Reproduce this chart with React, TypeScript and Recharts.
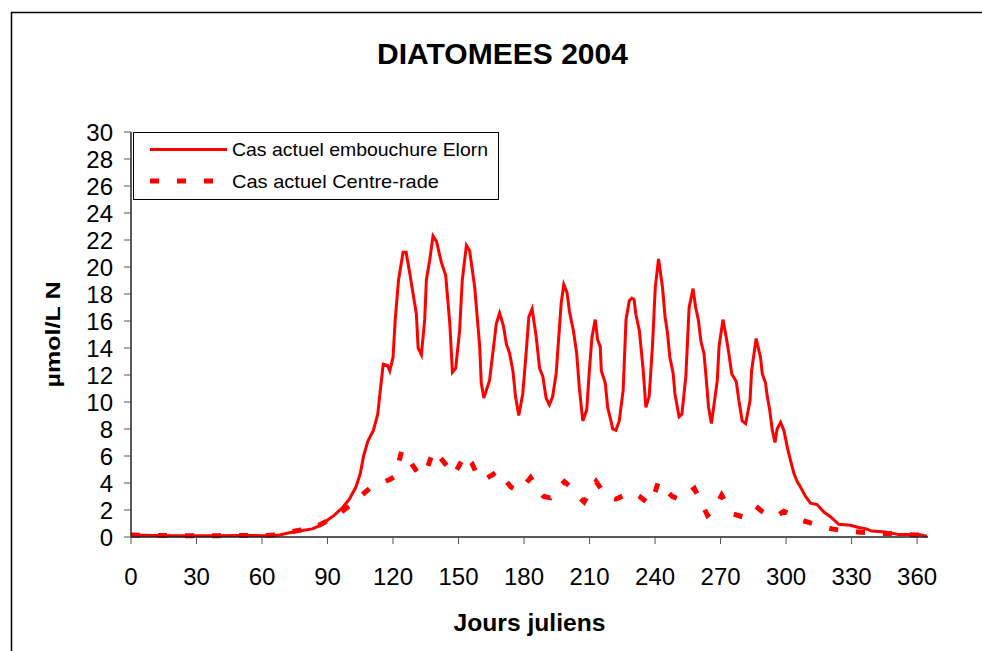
import React from "react";
import { LineChart, Line, XAxis, YAxis, Label } from "recharts";

// ---- Data ----
const chartTitle = "DIATOMEES 2004";
const xAxisTitle = "Jours juliens";
const yAxisTitle = "µmol/L N";
const seriesNames = ["Cas actuel embouchure Elorn", "Cas actuel Centre-rade"];

const xTicks = [0, 30, 60, 90, 120, 150, 180, 210, 240, 270, 300, 330, 360];
const yTicks = [0, 2, 4, 6, 8, 10, 12, 14, 16, 18, 20, 22, 24, 26, 28, 30];

const elornDays = [
  0, 10, 20, 30, 40, 50, 60, 65, 68, 72, 77, 83, 86, 89.6, 93, 97, 100, 103, 105, 106.5,
  108.5, 111, 113, 114, 115.5, 117.5, 118.5, 120, 121, 122.5, 124.6, 126, 127.7, 129.2, 130.7, 131.5,
  133, 134.5, 135.3, 136.8, 138.3, 139.9, 142.2, 144.1, 146, 147.2, 148.7, 150.5, 151.7, 153.6,
  155.1, 157.4, 159.7, 160.4, 161.6, 164.2, 167.3, 168.8, 170.6, 171.9, 173.4, 174.9, 176.1, 177.6,
  179.4, 180.7, 182.2, 183.7, 185.6, 187.1, 188.6, 190.1, 191.6, 193.1, 194.7, 195.9, 197, 198.2,
  199.7, 200.8, 202.6, 204.1, 205.3, 206.9, 208.7, 209.9, 211.1, 212.6, 213.7, 214.9, 215.4, 217.2,
  218.3, 219.8, 220.6, 222.1, 223.6, 225.4, 226.7, 228.2, 229.4, 230.4, 231.2, 232.8, 234.6, 235.8,
  237.3, 238.8, 240.1, 241.6, 243.4, 244.6, 245.7, 246.8, 248.3, 249.1, 251, 252.3, 254.1, 255.6,
  257.4, 258.6, 259.8, 261, 262.4, 263.5, 264.5, 265.8, 267.5, 268.5, 269.3, 271.1, 272.6, 273.8,
  275.1, 277.2, 278.4, 279.9, 281.5, 283.5, 284.2, 286.3, 288.3, 289.1, 290.6, 291.4, 292.5, 293.7,
  294.9, 295.9, 297.5, 299, 300.5, 302, 303.6, 305.1, 306.6, 308.9, 311.2, 314.2, 317.3, 320.3,
  324.1, 329.5, 333.2, 336.3, 339.3, 345.4, 351.5, 360.7, 364.5,
];
const elornValues = [
  0.15, 0.12, 0.1, 0.1, 0.1, 0.12, 0.1, 0.12, 0.15, 0.3, 0.45, 0.6, 0.8, 1.2, 1.6, 2.2, 2.8, 3.7, 4.7, 6.0,
  7.1, 7.9, 9.1, 10.6, 12.8, 12.7, 12.3, 13.3, 16.1, 19.0, 21.1, 21.1, 19.5, 18.0, 16.5, 14.0,
  13.5, 16.1, 19.1, 20.5, 22.3, 21.9, 20.3, 19.4, 15.8, 12.2, 12.5, 15.3, 19.0, 21.6,
  21.2, 18.5, 14.1, 11.4, 10.3, 11.6, 15.8, 16.6, 15.6, 14.3, 13.6, 12.3, 10.4, 9.0,
  10.6, 13.1, 16.3, 16.9, 14.8, 12.5, 11.9, 10.3, 9.8, 10.4, 12.1, 14.8, 17.3, 18.7,
  18.1, 16.7, 15.3, 13.6, 11.1, 8.6, 9.4, 12.3, 14.8, 16.1, 14.6, 14.1, 12.3, 11.4,
  9.6, 8.6, 8.0, 7.9, 8.6, 10.9, 16.1, 17.5, 17.7, 17.6, 16.5, 15.3, 12.3, 9.6,
  10.4, 14.1, 18.5, 20.6, 18.5, 16.3, 15.1, 13.3, 12.1, 10.6, 8.9, 9.1, 11.9, 17.0,
  18.4, 17.0, 16.1, 14.5, 13.6, 11.6, 9.6, 8.4, 10.4, 11.6, 14.1, 16.1, 14.8, 13.6,
  12.1, 11.5, 10.1, 8.6, 8.4, 10.1, 12.3, 14.7, 13.3, 12.1, 11.4, 10.4, 9.4, 7.9,
  7.0, 8.0, 8.5, 7.9, 6.7, 5.7, 4.7, 4.1, 3.7, 3.0, 2.5, 2.4, 1.85, 1.5,
  0.94, 0.87, 0.7, 0.62, 0.44, 0.37, 0.18, 0.18, 0.05,
];

const centreDays = [
  0, 10, 20, 30, 40, 50, 60, 66, 72, 77, 83, 90, 95, 100, 105, 110, 115, 119, 121, 124,
  126, 129, 132, 135, 138.5, 141, 144, 147.5, 150, 153, 156, 158, 161, 165.5, 168, 171, 174, 177.5,
  180, 183, 186, 189, 192, 195, 198.5, 202, 205, 207.5, 210, 213, 216, 219, 222, 226, 230, 233,
  236, 238.5, 241.5, 244, 248, 251, 255, 258, 261, 264, 267, 270.5, 273, 276, 280, 283, 286, 289,
  292, 295, 299, 302, 306, 310, 315, 321, 327, 333, 340, 346, 353, 360, 365,
];
const centreValues = [
  0.15, 0.12, 0.1, 0.1, 0.1, 0.12, 0.1, 0.15, 0.35, 0.5, 0.6, 1.2, 1.7, 2.3, 3.0, 3.7, 4.0, 4.3, 4.5, 6.4,
  6.0, 5.3, 4.6, 4.8, 6.4, 6.0, 5.4, 4.6, 5.2, 6.1, 5.5, 4.8, 4.2, 4.6, 4.9, 4.3, 3.7, 3.4,
  3.8, 4.4, 3.6, 3.0, 2.9, 3.5, 4.1, 3.6, 3.0, 2.6, 3.3, 4.1, 3.4, 2.9, 2.8, 3.1, 3.3, 3.0,
  2.6, 2.5, 4.1, 3.6, 3.0, 2.8, 3.2, 3.6, 2.6, 1.6, 2.0, 3.1, 2.4, 1.7, 1.5, 1.8, 2.3, 1.9,
  1.6, 1.5, 1.9, 1.7, 1.3, 1.1, 0.85, 0.6, 0.45, 0.37, 0.3, 0.25, 0.2, 0.15, 0.1,
];

const elornData = elornDays.map((d, i) => ({ day: d, value: elornValues[i] }));
const centreData = centreDays.map((d, i) => ({ day: d, value: centreValues[i] }));

const RED = "#FF0000";
const FONT = "'Liberation Sans', Arial, sans-serif";

const LegendBox = () => (
  <div
    style={{
      position: "absolute",
      left: 133,
      top: 132,
      width: 366,
      height: 68,
      boxSizing: "border-box",
      border: "1px solid #000",
      background: "#fff",
      fontFamily: FONT,
    }}
  >
    <svg width={366} height={68} style={{ position: "absolute", left: -1, top: -1 }}>
      <line x1={17} x2={94} y1={17.5} y2={17.5} stroke={RED} strokeWidth={3} />
      <line x1={17} x2={94} y1={49} y2={49} stroke={RED} strokeWidth={5} strokeDasharray="9 18" />
      <text x={99} y={17.5} dy="0.35em" fontSize={19} fill="#000" fontFamily={FONT} textLength={256} lengthAdjust="spacingAndGlyphs">
        {seriesNames[0]}
      </text>
      <text x={99} y={49} dy="0.35em" fontSize={19} fill="#000" fontFamily={FONT} textLength={207} lengthAdjust="spacingAndGlyphs">
        {seriesNames[1]}
      </text>
    </svg>
  </div>
);

export default function App() {
  return (
    <div style={{ position: "absolute", left: 0, top: 0, width: 982, height: 651, background: "#fff" }}>
      <svg width={982} height={651} style={{ position: "absolute", left: 0, top: 0 }}>
        <rect x={11.5} y={12.5} width={1000} height={700} fill="none" stroke="#000" strokeWidth={1.5} />
        <text
          x={502.5}
          y={63.5}
          fontSize={29}
          fontWeight="bold"
          fontFamily={FONT}
          textAnchor="middle"
          textLength={251}
          lengthAdjust="spacingAndGlyphs"
          fill="#000"
        >
          {chartTitle}
        </text>
      </svg>
      <div style={{ position: "absolute", left: 0, top: 0 }}>
        <LineChart
          width={982}
          height={651}
          margin={{ top: 132, right: 54, bottom: 0, left: 71 }}
          style={{ fontFamily: FONT }}
        >
          <XAxis
            dataKey="day"
            type="number"
            domain={[0, 365]}
            ticks={xTicks}
            interval={0}
            allowDuplicatedCategory={false}
            height={114}
            tickSize={7}
            tickMargin={24}
            tick={{ fontSize: 24, fill: "#000", fontFamily: FONT }}
            axisLine={{ stroke: "#222", strokeWidth: 1.5 }}
            tickLine={{ stroke: "#555", strokeWidth: 1 }}
          >
            <Label
              content={({ viewBox }: any) => (
                <text
                  x={viewBox.x + viewBox.width / 2}
                  y={631}
                  textAnchor="middle"
                  fontSize={23}
                  fontWeight="bold"
                  fontFamily={FONT}
                  textLength={152}
                  lengthAdjust="spacingAndGlyphs"
                  fill="#000"
                >
                  {xAxisTitle}
                </text>
              )}
            />
          </XAxis>
          <XAxis
            xAxisId="top"
            orientation="top"
            type="number"
            domain={[0, 365]}
            tick={false}
            tickLine={false}
            height={0}
            axisLine={{ stroke: "#222", strokeWidth: 1 }}
          />
          <YAxis
            domain={[0, 30]}
            ticks={yTicks}
            interval={0}
            width={60}
            tickSize={7}
            tickMargin={11}
            tick={{ fontSize: 24, fill: "#000", fontFamily: FONT }}
            axisLine={{ stroke: "#222", strokeWidth: 1.5 }}
            tickLine={{ stroke: "#555", strokeWidth: 1 }}
          >
            <Label
              content={({ viewBox }: any) => {
                const cx = 53;
                const cy = viewBox.y + viewBox.height / 2;
                return (
                  <text
                    x={cx}
                    y={cy}
                    transform={`rotate(-90 ${cx} ${cy})`}
                    textAnchor="middle"
                    dy="0.35em"
                    fontSize={21}
                    fontWeight="bold"
                    fontFamily={FONT}
                    textLength={106}
                    lengthAdjust="spacingAndGlyphs"
                    fill="#000"
                  >
                    {yAxisTitle}
                  </text>
                );
              }}
            />
          </YAxis>
          <YAxis
            yAxisId="right"
            orientation="right"
            domain={[0, 30]}
            tick={false}
            tickLine={false}
            width={0}
            axisLine={{ stroke: "#222", strokeWidth: 1.5 }}
          />
          <Line
            data={centreData}
            dataKey="value"
            name={seriesNames[1]}
            type="linear"
            stroke={RED}
            strokeWidth={5}
            strokeDasharray="9 18"
            dot={false}
            activeDot={false}
            isAnimationActive={false}
          />
          <Line
            data={elornData}
            dataKey="value"
            name={seriesNames[0]}
            type="linear"
            stroke={RED}
            strokeWidth={3}
            dot={false}
            activeDot={false}
            isAnimationActive={false}
          />
        </LineChart>
      </div>
      <LegendBox />
    </div>
  );
}
